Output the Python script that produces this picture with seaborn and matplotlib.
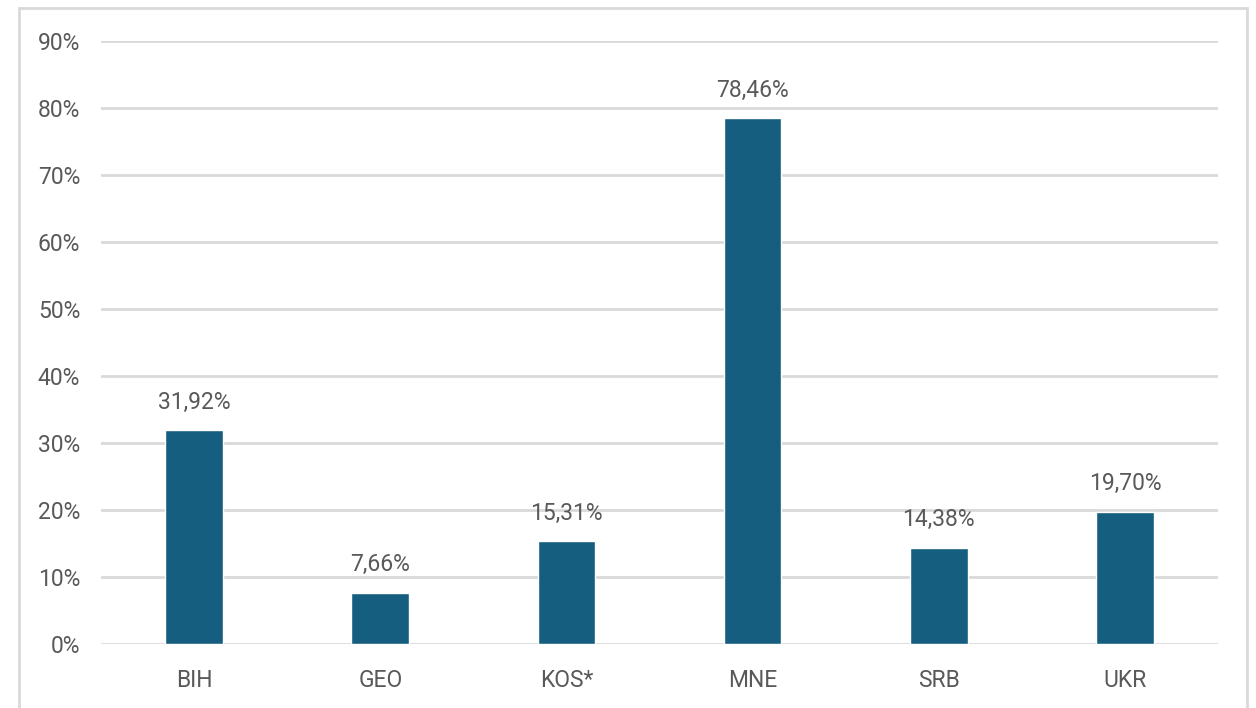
import matplotlib
matplotlib.use("Agg")
import matplotlib.pyplot as plt
from matplotlib.patches import Rectangle
import seaborn as sns
import pandas as pd

categories = ["BIH", "GEO", "KOS*", "MNE", "SRB", "UKR"]
values = [31.92, 7.66, 15.31, 78.46, 14.38, 19.70]
yticks = [0, 10, 20, 30, 40, 50, 60, 70, 80, 90]

df = pd.DataFrame({"cat": categories, "val": values})

sns.set_theme(style="white")
plt.rcParams['font.family'] = ['Roboto', 'DejaVu Sans']

fig = plt.figure(figsize=(12.56, 7.08), dpi=100)
ax = fig.add_axes([101/1256, 1-644/708, (1218-101)/1256, (644-41)/708])

sns.barplot(data=df, x="cat", y="val", color="#165E80", width=0.31, ax=ax,
            saturation=1, zorder=3)

ax.set_ylim(0, 90)
ax.set_yticks(yticks)
ax.set_yticklabels([f"{t}%" for t in yticks])
ax.set_xlim(-0.5, len(categories) - 0.5)
ax.grid(axis="y", color="#d9d9d9", linewidth=2, zorder=0)
ax.set_axisbelow(True)
for s in ax.spines.values():
    s.set_visible(False)
ax.set_xlabel("")
ax.set_ylabel("")
ax.tick_params(axis="both", length=0, labelsize=16.5, labelcolor="#595959")
ax.tick_params(axis="y", pad=15)
ax.tick_params(axis="x", pad=18)

for i, v in enumerate(values):
    ax.annotate(f"{v:.2f}%".replace(".", ","), (i, v), xytext=(0, 12),
                textcoords="offset points", ha="center", va="bottom",
                fontsize=16.5, color="#595959")

fig.patches.append(Rectangle((19/1256, -0.05), (1247-19)/1256, 1.05 - 8/708,
                             transform=fig.transFigure, fill=False,
                             edgecolor="#d9d9d9", linewidth=2))

fig.savefig("out.png", dpi=100)
